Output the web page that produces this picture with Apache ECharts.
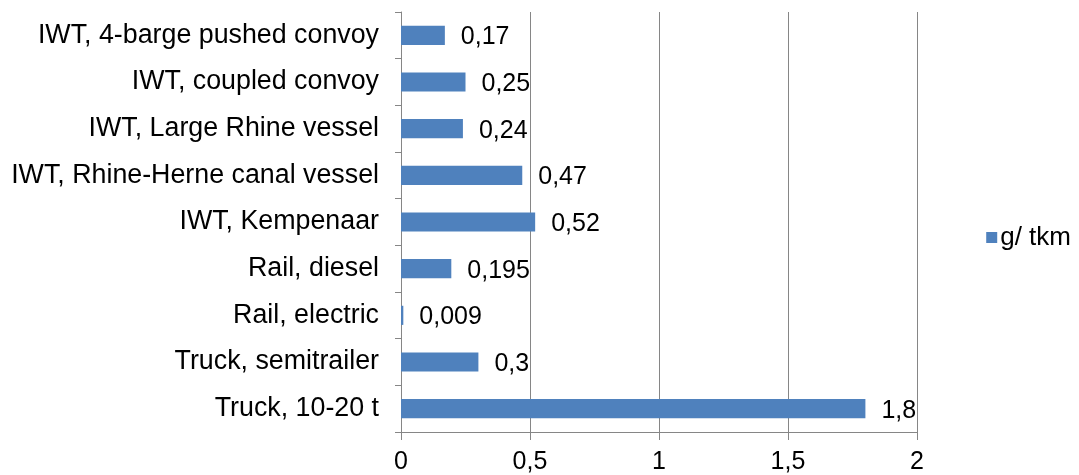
<!DOCTYPE html>
<html><head><meta charset="utf-8">
<script src="https://cdn.jsdelivr.net/npm/echarts@6/dist/echarts.min.js"></script>
<style>html,body{margin:0;padding:0;background:#fff}#c{width:1079px;height:475px}</style>
</head><body><div id="c"></div>
<script>
const categories = ["Truck, 10-20 t","Truck, semitrailer","Rail, electric","Rail, diesel","IWT, Kempenaar","IWT, Rhine-Herne canal vessel","IWT, Large Rhine vessel","IWT, coupled convoy","IWT, 4-barge pushed convoy"];
const values = [1.8,0.3,0.009,0.195,0.52,0.47,0.24,0.25,0.17];
const seriesName = "g/ tkm";
const fmt = v => String(v).replace('.', ',');
const FF = 'Liberation Sans, Arial, sans-serif';
const chart = echarts.init(document.getElementById('c'));
chart.setOption({
  animation:false,
  textStyle:{fontFamily:FF},
  grid:{left:401,right:162,top:12,bottom:43},
  legend:{right:3,top:'middle',orient:'vertical',itemWidth:11,itemHeight:11,icon:'rect',itemGap:5,
    textStyle:{fontSize:26,color:'#000',fontFamily:FF,padding:[0,0,0,-2]},data:[seriesName]},
  xAxis:{type:'value',min:0,max:2,interval:0.5,
    axisLine:{show:true,lineStyle:{color:'#868686'}},
    axisTick:{show:true,length:8,lineStyle:{color:'#868686'}},
    splitLine:{show:true,lineStyle:{color:'#868686',width:1}},
    axisLabel:{formatter:fmt,fontSize:25,color:'#000',margin:18,fontFamily:FF}},
  yAxis:{type:'category',data:categories,
    axisLine:{show:true,lineStyle:{color:'#868686'}},
    axisTick:{show:true,length:6,lineStyle:{color:'#868686'}},
    axisLabel:{fontSize:26.8,color:'#000',margin:22,fontFamily:FF}},
  series:[{name:seriesName,type:'bar',data:values,barCategoryGap:'59%',
    itemStyle:{color:'#4F81BD'},
    label:{show:true,position:'right',distance:16,fontSize:25,color:'#000',offset:[0,2],
      formatter:p=>fmt(p.value),fontFamily:FF}}]
});
</script></body></html>
